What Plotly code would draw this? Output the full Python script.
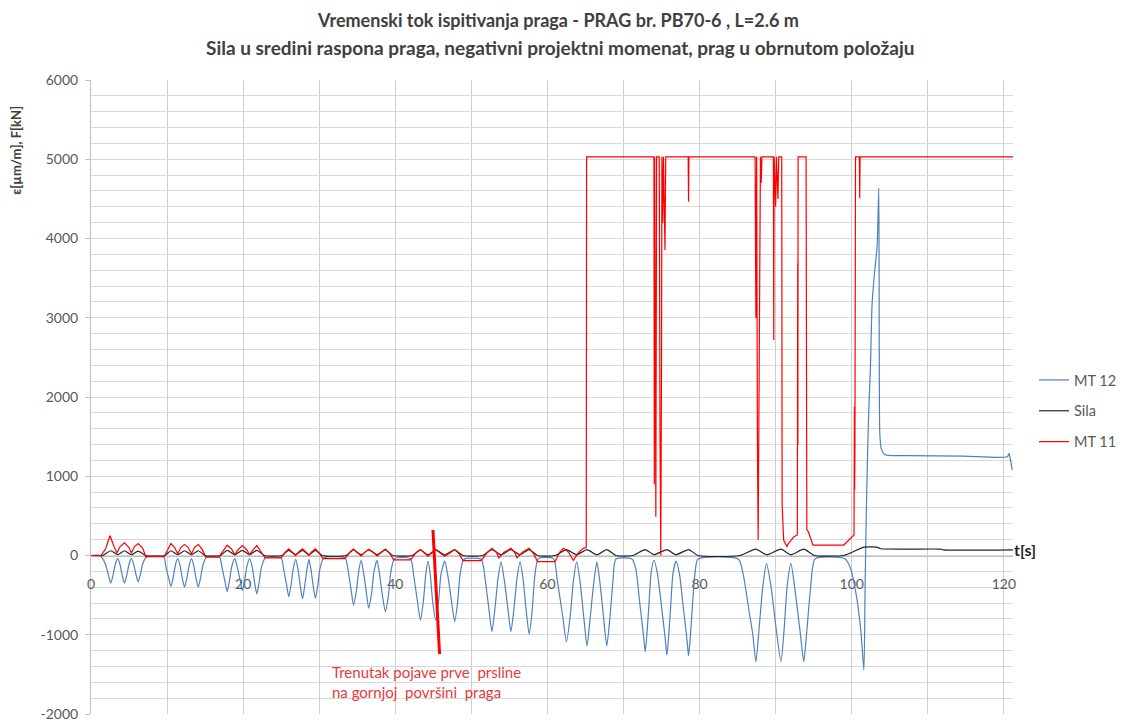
import plotly.graph_objects as go

# ---------------- data ----------------
t_mt12 = [0.0, 1.2, 1.9, 2.3, 2.6, 2.9, 3.2, 3.5, 3.8, 4.1, 4.4, 4.7, 5.0, 5.3, 5.6, 5.9, 6.2, 6.5, 6.8, 7.3,
          9.6, 9.8, 10.2, 10.5, 10.8, 11.1, 11.4, 11.7, 12.0, 12.3, 12.6, 12.9, 13.2, 13.5, 13.8, 14.1, 14.4, 14.7, 15.2,
          16.9, 17.2, 17.6, 17.9, 18.2, 18.5, 18.9, 19.2, 19.6, 19.9, 20.2, 20.5, 20.85, 21.2, 21.5, 21.8, 22.1, 22.4, 22.9,
          25.0, 25.3, 25.7, 26.0, 26.3, 26.6, 26.9, 27.2, 27.5, 27.8, 28.1, 28.4, 28.65, 28.9, 29.2, 29.5, 29.8, 30.1, 30.6,
          33.4, 33.8, 34.2, 34.5, 34.9, 35.2, 35.5, 35.8, 36.2, 36.5, 36.9, 37.2, 37.6, 37.9, 38.3, 38.7, 39.1, 39.4, 39.9,
          42.0, 42.4, 42.9, 43.3, 43.7, 44.0, 44.3, 44.6, 44.9, 45.3, 45.7, 46.0, 46.5, 46.9, 47.4, 47.8, 48.2, 48.5, 49.0,
          51.3, 51.8, 52.3, 52.7, 53.1, 53.5, 53.9, 54.3, 54.8, 55.2, 55.6, 56.0, 56.4, 56.8, 57.2, 57.6, 58.0, 58.3, 58.8,
          60.8, 61.3, 62.0, 62.5, 63.0, 63.4, 63.85, 64.3, 64.8, 65.2, 65.6, 66.1, 66.5, 66.9, 67.4, 67.8, 68.2, 68.6, 69.0,
          71.1, 71.6, 72.15, 72.65, 72.85, 73.05, 73.35, 73.65, 74.0, 74.45, 75.0, 75.5, 75.7, 75.9, 76.2, 76.5, 76.9,
          77.35, 77.85, 78.35, 78.55, 78.75, 79.05, 79.4, 79.8,
          85.1, 85.7, 86.5, 87.0, 87.4, 87.8, 88.3, 88.8, 89.4, 90.1, 90.7, 91.1, 91.5, 92.0, 92.5, 93.2, 93.7, 94.1, 94.6, 95.2,
          99.1, 99.8, 100.6, 101.2, 101.6, 101.75, 101.93, 102.2, 102.46, 102.68, 103.03, 103.34, 103.56, 103.69, 103.87,
          104.4, 107.3, 114.7, 120.45, 120.7, 120.8, 121.1]
mt12 = [0, 0, -110, -250, -350, -250, -110, -40, -110, -250, -350, -250, -110, -40, -105, -235, -330, -235, -105, -20,
        -20, -120, -280, -390, -280, -120, -40, -125, -285, -400, -285, -125, -40, -125, -285, -400, -285, -125, -20,
        -20, -140, -320, -455, -320, -140, -40, -135, -310, -440, -310, -135, -40, -150, -340, -485, -340, -150, -30,
        -30, -160, -365, -520, -365, -160, -50, -165, -380, -545, -380, -165, -50, -165, -380, -540, -380, -165, -30,
        -30, -190, -440, -625, -440, -190, -60, -200, -465, -665, -465, -200, -60, -215, -500, -710, -500, -215, -40,
        -40, -240, -570, -815, -570, -240, -70, -240, -570, -815, -570, -240, -70, -250, -585, -835, -585, -250, -50,
        -50, -290, -670, -960, -670, -290, -80, -290, -670, -960, -670, -290, -80, -300, -690, -990, -690, -300, -40,
        -40, -320, -760, -1090, -760, -330, -80, -340, -800, -1140, -800, -340, -80, -340, -800, -1140, -800, -340, -45,
        -45, -160, -610, -1030, -1215, -1030, -610, -200, -60, -225, -645, -1065, -1256, -1065, -645, -225, -70,
        -230, -650, -1070, -1265, -1070, -650, -220, -45,
        -45, -220, -700, -1000, -1340, -950, -400, -100, -400, -950, -1340, -950, -400, -100, -400, -950, -1340, -950, -400, -40,
        -40, -150, -500, -950, -1445, -450, 616, 1710, 2380, 3180, 3600, 3900, 4640, 1540, 1350,
        1270, 1260, 1255, 1245, 1290, 1240, 1080]

t_sila = [0, 1.5, 2.6, 3.5, 4.4, 5.3, 6.2, 7.2,
          9.7, 10.5, 11.4, 12.3, 13.2, 14.1, 15.0,
          17.0, 17.9, 18.9, 19.9, 20.85, 21.8, 22.8,
          25.1, 26.0, 26.9, 27.8, 28.65, 29.5, 30.4,
          33.5, 34.5, 35.5, 36.5, 37.6, 38.7, 39.7,
          42.2, 43.3, 44.3, 45.3, 46.5, 47.8, 48.9,
          51.5, 52.7, 53.9, 55.2, 56.4, 57.6, 58.7,
          61.0, 62.5, 63.85, 65.2, 66.5, 67.8, 69.0,
          71.2, 72.85, 74.0, 75.7, 76.9, 78.55, 79.8,
          85.3, 87.4, 88.8, 90.7, 92.0, 93.7, 95.1,
          98.9, 99.8, 101.6, 103.3, 103.8, 111.7, 112.0, 121.2]
sila = [0, 0, 60, 10, 60, 10, 55, 0,
        0, 60, 10, 60, 10, 60, 0,
        0, 65, 10, 65, 10, 65, 0,
        0, 65, 10, 65, 10, 65, 0,
        0, 70, 10, 70, 10, 70, 0,
        0, 70, 10, 70, 10, 70, 0,
        0, 75, 10, 75, 10, 75, 0,
        0, 75, 10, 75, 10, 75, 0,
        0, 75, 10, 75, 10, 75, 0,
        0, 80, 10, 80, 10, 80, 0,
        0, 30, 105, 105, 85, 80, 72, 72]

t_mt11 = [0, 1.3, 1.9, 2.5, 3.0, 3.4, 3.8, 4.4, 5.0, 5.3, 5.7, 6.2, 6.8, 7.2,
          9.6, 10.0, 10.5, 11.0, 11.4, 11.8, 12.3, 12.8, 13.2, 13.6, 14.1, 14.6, 15.1,
          16.8, 17.3, 17.9, 18.5, 18.9, 19.3, 19.9, 20.5, 20.85, 21.3, 21.8, 22.4, 22.9,
          25.0, 25.5, 26.0, 26.5, 26.9, 27.3, 27.8, 28.3, 28.65, 29.0, 29.5, 30.0, 30.5,
          33.4, 34.0, 34.5, 35.0, 35.5, 36.0, 36.5, 37.1, 37.6, 38.2, 38.7, 39.3, 39.8,
          42.0, 42.7, 43.3, 43.9, 44.3, 44.8, 45.3, 45.9, 46.5, 47.2, 47.8, 48.4, 48.9,
          51.3, 52.1, 52.7, 53.3, 53.6, 54.3, 55.2, 55.7, 56.0, 56.7, 57.6, 58.2, 58.7,
          61.0, 61.6, 62.1, 62.8, 63.4, 64.1, 64.7, 65.1, 65.15,
          74.0, 74.05, 74.1, 74.25, 74.35, 74.7, 74.8, 74.9, 75.0, 75.05, 75.15, 75.25, 75.45, 75.55,
          78.5, 78.55, 78.6,
          87.3, 87.4, 87.5, 87.6, 87.7, 87.8, 87.9, 88.0, 88.1, 88.2,
          89.7, 89.75, 89.8, 90.0, 90.1, 90.3, 90.4, 90.8, 90.85, 91.05, 91.5, 91.6, 92.4, 92.85,
          92.9, 92.92, 92.95, 94.0, 94.1, 94.3, 94.9, 98.95, 100.3, 100.35, 100.38, 100.42, 100.5,
          101.0, 101.05, 101.1, 121.2]
mt11 = [0, 0, 80, 250, 120, 30, 110, 160, 100, 30, 110, 150, 90, -15,
        -15, 60, 150, 100, 20, 100, 140, 100, 20, 100, 140, 80, -20,
        -20, 50, 130, 80, 10, 70, 125, 70, 10, 70, 125, 40, -30,
        -30, 40, 85, 40, 0, 45, 85, 40, 0, 45, 85, 30, -40,
        -40, 40, 80, 40, -5, 40, 80, 40, -5, 40, 80, 20, -55,
        -55, 30, 75, 30, -10, 30, 75, 30, -10, 30, 75, 20, -65,
        -65, 40, 90, 40, -30, 40, 90, 40, -30, 40, 90, 20, -78,
        -78, 40, 90, 40, -60, 40, 90, 100, 5030,
        5030, 900, 5030, 490, 5030, 5030, 1500, 0, 2500, 5030, 4200, 5030, 3855, 5030,
        5030, 4465, 5030,
        5030, 3000, 5030, 1500, 196, 1800, 4800, 5030, 4700, 5030,
        5030, 2720, 5030, 4400, 5030, 4500, 5030, 5030, 658, 196, 111, 140, 237, 259,
        3687, 1394, 5030, 5030, 322, 300, 132, 132, 259, 1878, 826, 1331, 5030,
        5030, 4507, 5030, 5030]

series_names = ["MT 12", "Sila", "MT 11"]
series_colors = ["#4f81bd", "#262626", "#ff0000"]
series_shapes = ["spline", "spline", "linear"]

y_range = [-2000, 6000]
y_ticks = [-2000, -1000, 0, 1000, 2000, 3000, 4000, 5000, 6000]
y_ticktext = ["-2000", "-1000", "0", "1000", "2000", "3000", "4000", "5000", "6000"]
x_range = [0, 121.2]

crack_line_x = [44.95, 45.82]
crack_line_y = [322, -1243]

title_lines = ["Vremenski tok ispitivanja praga - PRAG br. PB70-6 , L=2.6 m",
               "Sila u sredini raspona praga, negativni projektni momenat, prag u obrnutom položaju"]
y_title = "ε[µm/m], F[kN]"
x_title = "t[s]"
note_lines = ["Trenutak pojave prve\u00a0 prsline", "na gornjoj\u00a0 površini\u00a0 praga"]

# ---------------- figure ----------------
FONT = "Lato, 'Liberation Sans', sans-serif"
W, H = 1122, 722
ML, MR, MT, MB = 91.3, 109.3, 80, 8
PW, PH = W - ML - MR, H - MT - MB


def px_to_paper_x(px):
    return (px - ML) / PW


def px_to_paper_y(py):
    return (H - MB - py) / PH


fig = go.Figure()
for name, tx, vy, col, shp in zip(series_names, [t_mt12, t_sila, t_mt11], [mt12, sila, mt11],
                                  series_colors, series_shapes):
    line = dict(color=col, width=1.2, shape=shp)
    if shp == "spline":
        line["smoothing"] = 0.6
    fig.add_trace(go.Scatter(x=tx, y=vy, mode="lines", name=name, legendgroup=name, line=line))

fig.add_shape(type="line", xref="x", yref="y",
              x0=crack_line_x[0], y0=crack_line_y[0], x1=crack_line_x[1], y1=crack_line_y[1],
              line=dict(color="#ff0000", width=3))

ann = []
ann.append(dict(text="<b>%s</b>" % title_lines[0], xref="paper", yref="paper",
                x=px_to_paper_x(558), y=px_to_paper_y(20), showarrow=False,
                xanchor="center", yanchor="middle", font=dict(family=FONT, size=18, color="#404040")))
ann.append(dict(text="<b>%s</b>" % title_lines[1], xref="paper", yref="paper",
                x=px_to_paper_x(560), y=px_to_paper_y(47), showarrow=False,
                xanchor="center", yanchor="middle", font=dict(family=FONT, size=19, color="#404040")))
ann.append(dict(text="<b>%s</b>" % y_title, xref="paper", yref="paper",
                x=px_to_paper_x(16), y=px_to_paper_y(150), showarrow=False, textangle=-90,
                xanchor="center", yanchor="middle", font=dict(family=FONT, size=13, color="#404040")))
ann.append(dict(text="<b>%s</b>" % x_title, xref="paper", yref="paper",
                x=px_to_paper_x(1012), y=px_to_paper_y(549), showarrow=False,
                xanchor="left", yanchor="middle", font=dict(family=FONT, size=16, color="#262626")))
ann.append(dict(text=note_lines[0], xref="paper", yref="paper",
                x=px_to_paper_x(330), y=px_to_paper_y(672), showarrow=False,
                xanchor="left", yanchor="middle", font=dict(family=FONT, size=15, color="#e8393b")))
ann.append(dict(text=note_lines[1], xref="paper", yref="paper",
                x=px_to_paper_x(330), y=px_to_paper_y(692), showarrow=False,
                xanchor="left", yanchor="middle", font=dict(family=FONT, size=15, color="#e8393b")))

fig.update_layout(
    width=W, height=H, autosize=False,
    margin=dict(l=ML, r=MR, t=MT, b=MB, pad=0, autoexpand=False),
    paper_bgcolor="white", plot_bgcolor="white",
    font=dict(family=FONT, size=13, color="#595959"),
    showlegend=True,
    legend=dict(xref="container", yref="container", x=1034 / W, y=1 - 411 / H,
                xanchor="left", yanchor="middle",
                traceorder="grouped", tracegroupgap=9, font=dict(family=FONT, size=14.5, color="#595959"),
                bgcolor="rgba(0,0,0,0)", itemwidth=30),
    annotations=ann,
    xaxis=dict(range=x_range, dtick=20, tick0=0, showgrid=True, gridcolor="#cfcfcf", gridwidth=1,
               minor=dict(dtick=10, tick0=0, showgrid=True, gridcolor="#cfcfcf", gridwidth=1),
               zeroline=False, showline=True, linecolor="#bfbfbf", linewidth=1, automargin=False,
               anchor="free", position=0.25, ticks="", ticklabelstandoff=16,
               tickfont=dict(family=FONT, size=14, color="#595959"), layer="below traces"),
    yaxis=dict(range=y_range, tickmode="array", tickvals=y_ticks, ticktext=y_ticktext,
               showgrid=True, gridcolor="#d9d9d9", gridwidth=1,
               minor=dict(tickmode="linear", dtick=200, tick0=0, showgrid=True, gridcolor="#d9d9d9", gridwidth=1),
               zeroline=False, showline=True, linecolor="#bfbfbf", linewidth=1, automargin=False,
               ticks="outside", ticklen=5, tickcolor="#bfbfbf", ticklabelstandoff=4,
               tickfont=dict(family=FONT, size=14, color="#595959"), layer="below traces"),
)

fig.write_html("out.html", config={"displayModeBar": False})
with open("out.html", "r", encoding="utf-8") as f:
    html = f.read()
html = html.replace("<head>", "<head><style>html,body{margin:0;padding:0;overflow:hidden;}</style>", 1)
with open("out.html", "w", encoding="utf-8") as f:
    f.write(html)
